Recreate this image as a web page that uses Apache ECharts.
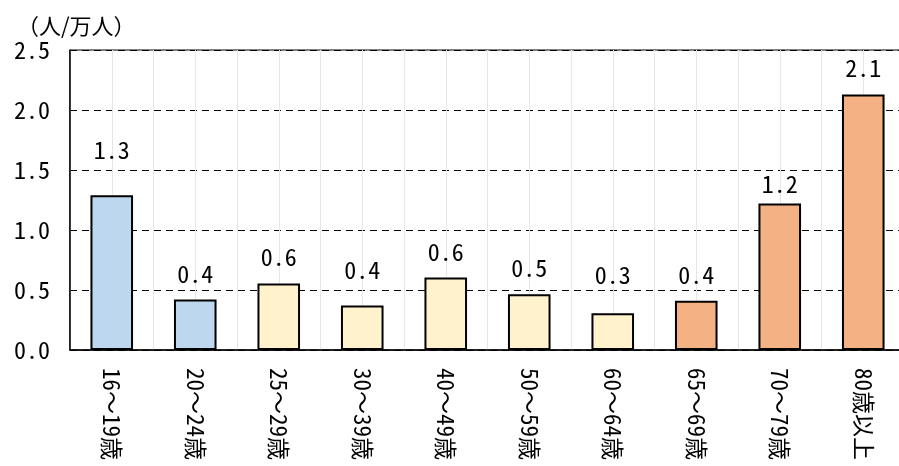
<!DOCTYPE html>
<html><head><meta charset="utf-8">
<script src="https://cdn.jsdelivr.net/npm/echarts@6/dist/echarts.min.js"></script>
<style>html,body{margin:0;padding:0;background:#fff;}#c{width:899px;height:466px;}</style>
</head><body><div id="c"></div>
<script>
const categories = ['16～19歳','20～24歳','25～29歳','30～39歳','40～49歳','50～59歳','60～64歳','65～69歳','70～79歳','80歳以上'];
const values = [1.29, 0.42, 0.555, 0.37, 0.605, 0.464, 0.306, 0.41, 1.22, 2.13];
const groups = ['young','young','mid','mid','mid','mid','mid','old','old','old'];
const yTicks = [0, 0.5, 1.0, 1.5, 2.0, 2.5];
const unitLabel = '（人/万人）';

const groupColors = {young:'#BDD7EE', mid:'#FFF2CC', old:'#F4B183'};
const labelDist = [33, 14, 15, 24, 14, 14, 26, 14, 8, 15];
const numFont = '"Noto Sans Mono CJK JP", "DejaVu Sans Mono", monospace';

const chart = echarts.init(document.getElementById('c'));
chart.setOption({
  animation:false,
  grid:{left:70, top:50, width:835, bottom:116, outerBoundsMode:'none', containLabel:false, show:true, borderColor:'#000', borderWidth:1},
  graphic:[{type:'text', left:17, top:15, style:{text:unitLabel, font:'22px "Noto Sans CJK JP"', fill:'#000'}}],
  xAxis:[{
    type:'category', data:categories,
    axisLine:{lineStyle:{color:'#000', width:1.5}},
    axisTick:{show:false},
    axisLabel:{rotate:-90, margin:18, color:'#000', fontSize:23, fontFamily:numFont},
    splitLine:{show:false}
  },{
    type:'value', min:0, max:10, interval:0.5, show:true, position:'bottom',
    axisLine:{show:false}, axisTick:{show:false}, axisLabel:{show:false},
    splitLine:{show:true, lineStyle:{color:'#e6e6e6', width:1}}
  }],
  yAxis:{
    type:'value', min:yTicks[0], max:yTicks[yTicks.length-1], interval:0.5,
    axisLine:{show:true, lineStyle:{color:'#000', width:1.5}},
    axisTick:{show:false},
    axisLabel:{margin:20, color:'#000', fontSize:24, fontFamily:numFont, formatter:v=>v.toFixed(1)},
    splitLine:{lineStyle:{color:'#000', type:[7,5], width:1}}
  },
  series:[{
    type:'bar', barWidth:'51%', xAxisIndex:0,
    data: values.map((v,i)=>({value:v,
      itemStyle:{color:groupColors[groups[i]]},
      label:{distance:labelDist[i]}})),
    itemStyle:{borderColor:'#000', borderWidth:2},
    label:{show:true, position:'top', color:'#000', fontSize:24, fontFamily:numFont, formatter:p=>p.value.toFixed(1)}
  }]
});
</script></body></html>
